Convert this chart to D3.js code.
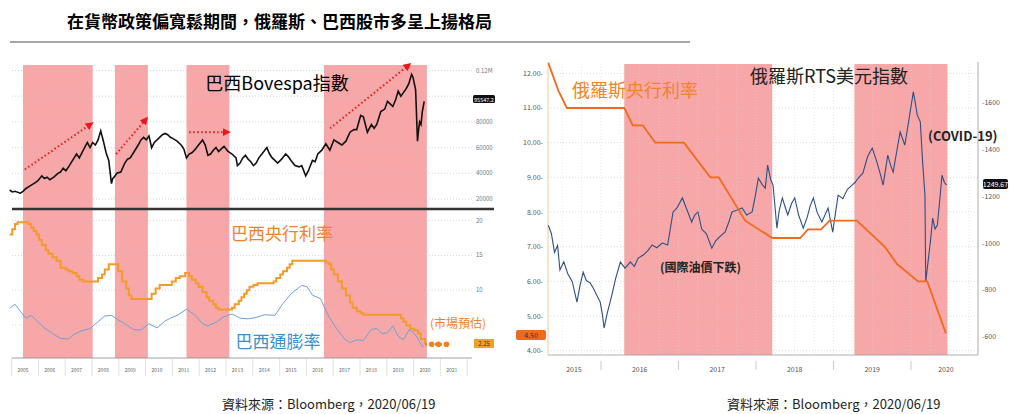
<!DOCTYPE html>
<html><head><meta charset="utf-8">
<script src="https://cdn.jsdelivr.net/npm/d3@7"></script>
<style>body{margin:0;background:#fff}svg{display:block;font-family:"Noto Sans CJK TC","Noto Sans",sans-serif}</style>
</head><body><svg id="c" width="1024" height="414"></svg>
<script>
// ---------- DATA ----------
const brYears = d3.range(2005, 2022);
const brBands = [[2005.5,2008.1],[2008.93,2010.16],[2011.6,2013.2],[2016.73,2020.57]];
const bovespa = [[2005.0,27000],[2005.1,25500],[2005.2,26000],[2005.4,24500],[2005.5,26000],[2005.6,28000],[2005.75,30000],[2005.9,32000],[2006.05,34000],[2006.2,38000],[2006.3,36000],[2006.4,37000],[2006.5,35000],[2006.65,37000],[2006.8,40000],[2006.9,41000],[2007.0,44000],[2007.1,42000],[2007.2,45000],[2007.35,50000],[2007.5,55000],[2007.6,52000],[2007.75,58000],[2007.9,64000],[2008.0,60000],[2008.1,64000],[2008.2,62000],[2008.3,66000],[2008.4,73000],[2008.5,65000],[2008.6,56000],[2008.7,50000],[2008.8,32000],[2008.85,36000],[2008.9,37000],[2009.0,40000],[2009.15,41000],[2009.3,48000],[2009.4,51000],[2009.5,52000],[2009.65,57000],[2009.8,62000],[2009.9,66000],[2010.0,68000],[2010.1,66000],[2010.2,69000],[2010.3,60000],[2010.4,64000],[2010.55,67000],[2010.7,70000],[2010.8,71000],[2010.9,70000],[2011.0,68000],[2011.1,67000],[2011.25,65000],[2011.4,62000],[2011.5,59000],[2011.6,52000],[2011.7,55000],[2011.8,56000],[2011.9,58000],[2012.05,62000],[2012.2,66000],[2012.3,62000],[2012.4,54000],[2012.5,55000],[2012.6,58000],[2012.7,60000],[2012.8,57000],[2012.9,59000],[2013.0,61000],[2013.15,57000],[2013.3,55000],[2013.45,52000],[2013.5,46000],[2013.6,48000],[2013.7,52000],[2013.8,54000],[2013.9,51000],[2014.0,49000],[2014.1,46000],[2014.2,48000],[2014.3,52000],[2014.45,56000],[2014.6,60000],[2014.7,55000],[2014.8,52000],[2014.9,50000],[2015.0,48000],[2015.15,51000],[2015.3,55000],[2015.4,53000],[2015.5,50000],[2015.65,46000],[2015.8,45000],[2015.9,46000],[2016.05,38000],[2016.15,42000],[2016.3,50000],[2016.4,49000],[2016.5,55000],[2016.65,58000],[2016.8,63000],[2016.95,58000],[2017.1,66000],[2017.25,64000],[2017.4,62000],[2017.55,65000],[2017.7,72000],[2017.85,74000],[2017.95,74000],[2018.1,85000],[2018.2,84000],[2018.35,72000],[2018.5,78000],[2018.6,75000],[2018.7,78000],[2018.85,88000],[2019.0,90000],[2019.1,96000],[2019.2,94000],[2019.3,92000],[2019.4,97000],[2019.5,104000],[2019.6,100000],[2019.7,103000],[2019.8,106000],[2019.9,110000],[2020.0,117000],[2020.05,115000],[2020.15,105000],[2020.22,65000],[2020.26,74000],[2020.3,80000],[2020.35,78000],[2020.4,88000],[2020.47,96000]];
const selic = [[2005.0,18.0],[2005.1,18.75],[2005.2,19.5],[2005.3,19.75],[2005.7,19.5],[2005.8,19.0],[2005.9,18.5],[2006.0,18.0],[2006.1,17.25],[2006.2,16.5],[2006.35,15.75],[2006.45,15.25],[2006.6,14.75],[2006.75,14.25],[2006.9,13.25],[2007.1,13.0],[2007.2,12.75],[2007.35,12.5],[2007.5,12.0],[2007.6,11.5],[2007.75,11.25],[2008.3,11.75],[2008.45,12.25],[2008.55,13.0],[2008.7,13.75],[2009.05,12.75],[2009.2,11.25],[2009.35,10.25],[2009.45,9.25],[2009.55,8.75],[2010.3,9.5],[2010.45,10.25],[2010.6,10.75],[2011.05,11.25],[2011.2,11.75],[2011.35,12.0],[2011.55,12.5],[2011.7,12.0],[2011.8,11.5],[2011.95,11.0],[2012.05,10.5],[2012.2,9.75],[2012.35,9.0],[2012.45,8.5],[2012.6,8.0],[2012.7,7.5],[2012.8,7.25],[2013.3,7.5],[2013.4,8.0],[2013.55,8.5],[2013.65,9.0],[2013.75,9.5],[2013.85,10.0],[2013.95,10.5],[2014.1,10.75],[2014.25,11.0],[2014.85,11.25],[2014.95,11.75],[2015.1,12.25],[2015.2,12.75],[2015.35,13.25],[2015.45,13.75],[2015.55,14.25],[2016.8,14.0],[2016.9,13.75],[2017.0,13.0],[2017.1,12.25],[2017.25,11.25],[2017.4,10.25],[2017.55,9.25],[2017.7,8.25],[2017.8,7.5],[2017.95,7.0],[2018.1,6.75],[2018.2,6.5],[2019.6,6.0],[2019.7,5.5],[2019.8,5.0],[2019.95,4.5],[2020.1,4.25],[2020.25,3.75],[2020.35,3.0],[2020.5,2.25]];
const selicForecast = [[2020.5,2.25],[2020.75,2.25],[2021.0,2.25],[2021.3,2.25]];
const ipca = [[2005.0,7.4],[2005.2,8.0],[2005.4,7.0],[2005.6,6.0],[2005.8,6.4],[2006.0,5.7],[2006.3,4.6],[2006.6,3.8],[2006.9,3.1],[2007.2,3.0],[2007.4,3.7],[2007.7,4.2],[2008.0,4.5],[2008.3,5.5],[2008.55,6.3],[2008.8,6.4],[2009.0,5.9],[2009.3,5.2],[2009.6,4.4],[2009.9,4.3],[2010.2,5.2],[2010.5,4.6],[2010.8,5.6],[2011.0,6.0],[2011.3,6.5],[2011.6,7.3],[2011.9,6.5],[2012.2,5.2],[2012.4,4.9],[2012.7,5.4],[2013.0,6.2],[2013.3,6.6],[2013.6,6.0],[2013.9,5.9],[2014.2,6.1],[2014.5,6.5],[2014.9,6.4],[2015.2,8.1],[2015.5,9.5],[2015.9,10.7],[2016.1,10.5],[2016.3,9.3],[2016.6,8.8],[2016.9,6.3],[2017.2,4.5],[2017.5,3.0],[2017.7,2.5],[2017.95,2.9],[2018.2,2.8],[2018.5,4.4],[2018.7,4.5],[2018.9,3.8],[2019.1,3.9],[2019.3,4.9],[2019.5,3.4],[2019.7,2.9],[2019.9,4.3],[2020.0,4.2],[2020.2,3.3],[2020.4,1.9],[2020.45,2.1]];
const brArrows = [[[2005.57,43000],[2008.08,79000]],[[2008.97,55000],[2010.13,83000]],[[2011.7,72000],[2013.19,72000]],[[2016.96,75000],[2019.94,125000]]];
const bovTicks = [[120000,"0.12M"],[80000,"80000"],[60000,"60000"],[40000,"40000"],[20000,"20000"]];
const rateTicks = [20,15,10,5];

const ruYears = d3.range(2015, 2021);
const ruBands = [[2016.3,2018.21],[2019.27,2020.47]];
const keyRate = [[2015.32,12.3],[2015.45,11.5],[2015.56,11.0],[2016.3,11.0],[2016.41,10.5],[2016.54,10.5],[2016.7,10.0],[2017.07,10.0],[2017.41,9.0],[2017.52,9.0],[2017.86,7.75],[2018.21,7.25],[2018.57,7.25],[2018.67,7.5],[2018.84,7.5],[2018.95,7.75],[2019.3,7.75],[2019.66,7.0],[2019.82,6.5],[2020.09,6.0],[2020.21,6.0],[2020.45,4.5]];
const rts = [[2015.32,1077],[2015.36,1040],[2015.4,960],[2015.44,990],[2015.47,885],[2015.52,920],[2015.57,870],[2015.63,834],[2015.66,790],[2015.69,748],[2015.73,820],[2015.77,876],[2015.81,840],[2015.86,830],[2015.9,808],[2015.94,780],[2015.99,748],[2016.02,690],[2016.04,637],[2016.08,700],[2016.14,778],[2016.19,850],[2016.25,919],[2016.31,893],[2016.38,920],[2016.43,900],[2016.48,936],[2016.55,950],[2016.61,970],[2016.66,992],[2016.72,980],[2016.79,1000],[2016.86,992],[2016.93,1133],[2016.98,1150],[2017.05,1193],[2017.1,1150],[2017.17,1090],[2017.21,1120],[2017.25,1133],[2017.3,1060],[2017.36,1040],[2017.43,978],[2017.48,1010],[2017.54,1030],[2017.6,1047],[2017.65,1090],[2017.69,1133],[2017.75,1140],[2017.82,1150],[2017.88,1120],[2017.95,1133],[2017.99,1200],[2018.03,1278],[2018.08,1250],[2018.12,1235],[2018.15,1333],[2018.19,1270],[2018.22,1248],[2018.27,1064],[2018.3,1140],[2018.34,1193],[2018.38,1150],[2018.41,1120],[2018.46,1170],[2018.5,1193],[2018.55,1120],[2018.61,1064],[2018.66,1110],[2018.7,1160],[2018.74,1193],[2018.79,1130],[2018.85,1090],[2018.89,1120],[2018.93,1150],[2018.99,1047],[2019.03,1140],[2019.06,1205],[2019.12,1190],[2019.18,1230],[2019.24,1248],[2019.28,1260],[2019.32,1278],[2019.38,1300],[2019.44,1370],[2019.5,1406],[2019.56,1346],[2019.6,1300],[2019.64,1248],[2019.7,1376],[2019.74,1330],[2019.77,1303],[2019.82,1400],[2019.86,1475],[2019.92,1419],[2019.97,1520],[2020.03,1646],[2020.06,1590],[2020.08,1548],[2020.12,1518],[2020.15,1346],[2020.18,1205],[2020.19,834],[2020.22,920],[2020.25,1005],[2020.28,1107],[2020.31,1060],[2020.34,1077],[2020.37,1180],[2020.4,1290],[2020.43,1260],[2020.46,1248]];
const ruLeftTicks = [4,5,6,7,8,9,10,11,12];
const ruRightTicks = [600,800,1000,1200,1400,1600];

// ---------- DRAW ----------
const svg = d3.select("#c");
const band = "#f7a7a7";
const orange = "#f0832a";

svg.append("text").attr("x",67).attr("y",28).attr("font-size",17).attr("font-weight","bold").text("在貨幣政策偏寬鬆期間，俄羅斯、巴西股市多呈上揚格局");
svg.append("line").attr("x1",10).attr("x2",690).attr("y1",42).attr("y2",42).attr("stroke","#222").attr("stroke-width",0.8);

// LEFT CHART
const L = svg.append("g");
const xL = d3.scaleLinear().domain([2005,2021]).range([9.6,438.4]);
const yB = d3.scaleLinear().domain([20000,120000]).range([199,70.5]);
const yR = d3.scaleLinear().domain([0,20]).range([360,220.6]);
L.selectAll(".bb").data(brBands).join("rect").attr("x",d=>xL(d[0])).attr("width",d=>xL(d[1])-xL(d[0])).attr("y",65).attr("height",293).attr("fill",band);
L.selectAll(".gb").data([120000,100000,80000,60000,40000,20000]).join("line").attr("x1",12).attr("x2",472).attr("y1",d=>yB(d)).attr("y2",d=>yB(d)).attr("stroke","#bbb").attr("stroke-dasharray","1,2").attr("stroke-width",0.6);
L.selectAll(".gr").data(rateTicks).join("line").attr("x1",12).attr("x2",472).attr("y1",d=>yR(d)).attr("y2",d=>yR(d)).attr("stroke","#bbb").attr("stroke-dasharray","1,2").attr("stroke-width",0.6);
L.selectAll(".tb").data(bovTicks).join("text").attr("x",476).attr("y",d=>yB(d[0])+2).attr("font-size",6).attr("fill","#777").text(d=>d[1]);
L.selectAll(".tr").data(rateTicks.filter(d=>d!==5)).join("text").attr("x",476).attr("y",d=>yR(d)+2).attr("font-size",6).attr("fill","#777").text(d=>d);
L.append("line").attr("x1",12).attr("x2",494).attr("y1",209).attr("y2",209).attr("stroke","#333").attr("stroke-width",2.5);
L.append("line").attr("x1",12).attr("x2",472).attr("y1",358).attr("y2",358).attr("stroke","#888").attr("stroke-width",0.8);
L.selectAll(".yt").data(brYears.concat([2022])).join("line").attr("x1",d=>xL(d)+2).attr("x2",d=>xL(d)+2).attr("y1",358).attr("y2",376).attr("stroke","#ccc").attr("stroke-width",0.6);
L.selectAll(".yl").data(brYears).join("text").attr("x",d=>xL(d+0.5)).attr("y",372).attr("font-size",5).attr("fill","#666").attr("text-anchor","middle").text(d=>d);
L.append("path").datum(bovespa).attr("d",d3.line().x(d=>xL(d[0])).y(d=>yB(d[1]))).attr("fill","none").attr("stroke","#111").attr("stroke-width",1.6);
L.append("path").datum(ipca).attr("d",d3.line().x(d=>xL(d[0])).y(d=>yR(d[1]))).attr("fill","none").attr("stroke","#6fa0d8").attr("stroke-width",1);
L.append("path").datum(selic).attr("d",d3.line().x(d=>xL(d[0])).y(d=>yR(d[1])).curve(d3.curveStepAfter)).attr("fill","none").attr("stroke","#f39a2b").attr("stroke-width",2);
L.append("path").datum(selicForecast).attr("d",d3.line().x(d=>xL(d[0])).y(d=>yR(d[1]))).attr("fill","none").attr("stroke","#f08020").attr("stroke-width",2.5).attr("stroke-dasharray","2,3");
L.selectAll(".fd").data(selicForecast.slice(1)).join("circle").attr("cx",d=>xL(d[0])).attr("cy",d=>yR(d[1])).attr("r",2.8).attr("fill","#f08020");
svg.append("defs").append("marker").attr("id","ah").attr("viewBox","0 0 10 10").attr("refX",8).attr("refY",5).attr("markerWidth",4).attr("markerHeight",4).attr("orient","auto").append("path").attr("d","M0,0L10,5L0,10z").attr("fill","#e8181e");
L.selectAll(".ar").data(brArrows).join("line").attr("x1",d=>xL(d[0][0])).attr("y1",d=>yB(d[0][1])).attr("x2",d=>xL(d[1][0])).attr("y2",d=>yB(d[1][1])).attr("stroke","#e8181e").attr("stroke-width",2).attr("stroke-dasharray","1.5,2.5").attr("marker-end","url(#ah)");
L.append("text").attr("x",277).attr("y",90).attr("font-size",18).attr("text-anchor","middle").text("巴西Bovespa指數");
L.append("text").attr("x",282).attr("y",240).attr("font-size",17).attr("text-anchor","middle").attr("fill",orange).text("巴西央行利率");
L.append("text").attr("x",278).attr("y",348).attr("font-size",17).attr("text-anchor","middle").attr("fill","#3a8fd0").text("巴西通膨率");
L.append("text").attr("x",458).attr("y",328).attr("font-size",12).attr("text-anchor","middle").attr("fill",orange).text("(市場預估)");
L.append("rect").attr("x",473).attr("y",95).attr("width",22).attr("height",8).attr("rx",1.5).attr("fill","#111");
L.append("text").attr("x",484).attr("y",101.5).attr("font-size",5.5).attr("fill","#fff").attr("text-anchor","middle").text("95547.2");
L.append("rect").attr("x",474).attr("y",339).attr("width",20).attr("height",9).attr("fill","#f0a030");
L.append("text").attr("x",484).attr("y",346).attr("font-size",6).attr("fill","#333").attr("text-anchor","middle").text("2.25");

// RIGHT CHART
const R = svg.append("g");
const xR = d3.scaleLinear().domain([2016,2020]).range([601,911]);
const yK = d3.scaleLinear().domain([4,12]).range([350.7,73.3]);
const yT = d3.scaleLinear().domain([600,1600]).range([336.7,102.7]);
R.append("clipPath").attr("id","rc").append("rect").attr("x",548).attr("y",62).attr("width",430).attr("height",293);
R.selectAll(".rb").data(ruBands).join("rect").attr("x",d=>xR(d[0])).attr("width",d=>xR(d[1])-xR(d[0])).attr("y",64).attr("height",291).attr("fill",band);
R.selectAll(".rg").data(ruLeftTicks).join("line").attr("x1",548).attr("x2",978).attr("y1",d=>yK(d)).attr("y2",d=>yK(d)).attr("stroke","#c8c8c8").attr("stroke-dasharray","1,2").attr("stroke-width",0.6);
R.selectAll(".rv").data(d3.range(2015.5,2021,0.25)).join("line").attr("x1",d=>xR(d)).attr("x2",d=>xR(d)).attr("y1",64).attr("y2",355).attr("stroke","#d8d8d8").attr("stroke-dasharray","1,2").attr("stroke-width",0.6);
R.append("line").attr("x1",548).attr("x2",548).attr("y1",62).attr("y2",355).attr("stroke","#f5c99a").attr("stroke-width",1);
R.append("line").attr("x1",978).attr("x2",978).attr("y1",62).attr("y2",355).attr("stroke","#999").attr("stroke-width",0.8);
R.append("line").attr("x1",548).attr("x2",978).attr("y1",355).attr("y2",355).attr("stroke","#999").attr("stroke-width",0.8);
R.selectAll(".rl").data(ruLeftTicks).join("text").attr("x",543).attr("y",d=>yK(d)+2.5).attr("font-size",7).attr("fill","#555").attr("text-anchor","end").text(d=>d.toFixed(2)+"-");
R.selectAll(".rr").data(ruRightTicks).join("text").attr("x",982).attr("y",d=>yT(d)+2.5).attr("font-size",7).attr("fill","#555").text(d=>"-"+d);
R.selectAll(".ry").data(ruYears.slice(1)).join("line").attr("x1",d=>xR(d)).attr("x2",d=>xR(d)).attr("y1",361).attr("y2",370).attr("stroke","#aaa").attr("stroke-width",0.6);
R.selectAll(".ryl").data(ruYears).join("text").attr("x",d=>d===2015?574:d===2020?946:xR(d+0.5)).attr("y",372).attr("font-size",7).attr("fill","#555").attr("text-anchor","middle").text(d=>d);
R.append("path").datum(rts).attr("clip-path","url(#rc)").attr("d",d3.line().x(d=>xR(d[0])).y(d=>yT(d[1]))).attr("fill","none").attr("stroke","#2e4f86").attr("stroke-width",1.1);
R.append("path").datum(keyRate).attr("clip-path","url(#rc)").attr("d",d3.line().x(d=>xR(d[0])).y(d=>yK(d[1]))).attr("fill","none").attr("stroke","#f06a1e").attr("stroke-width",1.8);
R.append("rect").attr("x",516).attr("y",330).attr("width",30).attr("height",10).attr("rx",2).attr("fill","#f06a1e");
R.append("text").attr("x",531).attr("y",337.5).attr("font-size",7).attr("fill","#333").attr("text-anchor","middle").text("4.50");
R.append("rect").attr("x",983).attr("y",179).attr("width",25).attr("height",10).attr("rx",2).attr("fill","#111");
R.append("text").attr("x",995.5).attr("y",186.5).attr("font-size",7).attr("fill","#fff").attr("text-anchor","middle").text("1249.67");
R.append("text").attr("x",572).attr("y",97).attr("font-size",18).attr("fill",orange).text("俄羅斯央行利率");
R.append("text").attr("x",750).attr("y",83).attr("font-size",18).attr("fill","#222").text("俄羅斯RTS美元指數");
R.append("text").attr("x",928).attr("y",141).attr("font-size",13).attr("font-weight","bold").attr("fill","#222").text("(COVID-19)");
R.append("text").attr("x",660).attr("y",272).attr("font-size",12).attr("font-weight","bold").attr("fill","#222").text("(國際油價下跌)");

svg.selectAll(".src").data([222,727]).join("text").attr("x",d=>d).attr("y",409).attr("font-size",13).attr("fill","#222").text("資料來源：Bloomberg，2020/06/19");
</script></body></html>
